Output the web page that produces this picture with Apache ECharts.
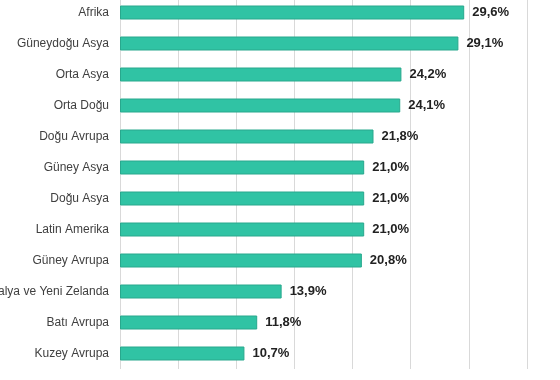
<!DOCTYPE html>
<html>
<head>
<meta charset="utf-8">
<script src="https://cdn.jsdelivr.net/npm/echarts@6/dist/echarts.min.js"></script>
<style>html,body{margin:0;padding:0;background:#fff;}#c{width:560px;height:380px;}</style>
</head>
<body>
<div id="c"></div>
<script>
var categories = ["Afrika","Güneydoğu Asya","Orta Asya","Orta Doğu","Doğu Avrupa","Güney Asya","Doğu Asya","Latin Amerika","Güney Avrupa","Avustralya ve Yeni Zelanda","Batı Avrupa","Kuzey Avrupa"];
var values = [29.6, 29.1, 24.2, 24.1, 21.8, 21.0, 21.0, 21.0, 20.8, 13.9, 11.8, 10.7];

var chart = echarts.init(document.getElementById('c'), null, {renderer: 'canvas'});
chart.setOption({
  animation: false,
  backgroundColor: '#ffffff',
  grid: {left: 120, right: 33, top: -3, bottom: 11, containLabel: false, outerBoundsMode: 'none'},
  xAxis: {
    type: 'value', min: 0, max: 35, interval: 5,
    axisLabel: {show: false}, axisLine: {show: false}, axisTick: {show: false},
    splitLine: {show: true, lineStyle: {color: '#d9d9d9', width: 1}}
  },
  yAxis: {
    type: 'category', data: categories, inverse: true,
    axisLine: {show: false}, axisTick: {show: false},
    axisLabel: {color: '#404040', fontSize: 12, fontFamily: 'Liberation Sans, Arial, sans-serif', margin: 11}
  },
  series: [{
    type: 'bar', data: values, barWidth: 14,
    itemStyle: {color: '#30c3a4', borderColor: '#28a88d', borderWidth: 1},
    label: {
      show: true, position: 'right', distance: 8,
      color: '#222222', fontSize: 13, fontWeight: 'bold', fontFamily: 'Liberation Sans, Arial, sans-serif',
      formatter: function (p) { return p.value.toFixed(1).replace('.', ',') + '%'; }
    }
  }]
});
</script>
</body>
</html>
